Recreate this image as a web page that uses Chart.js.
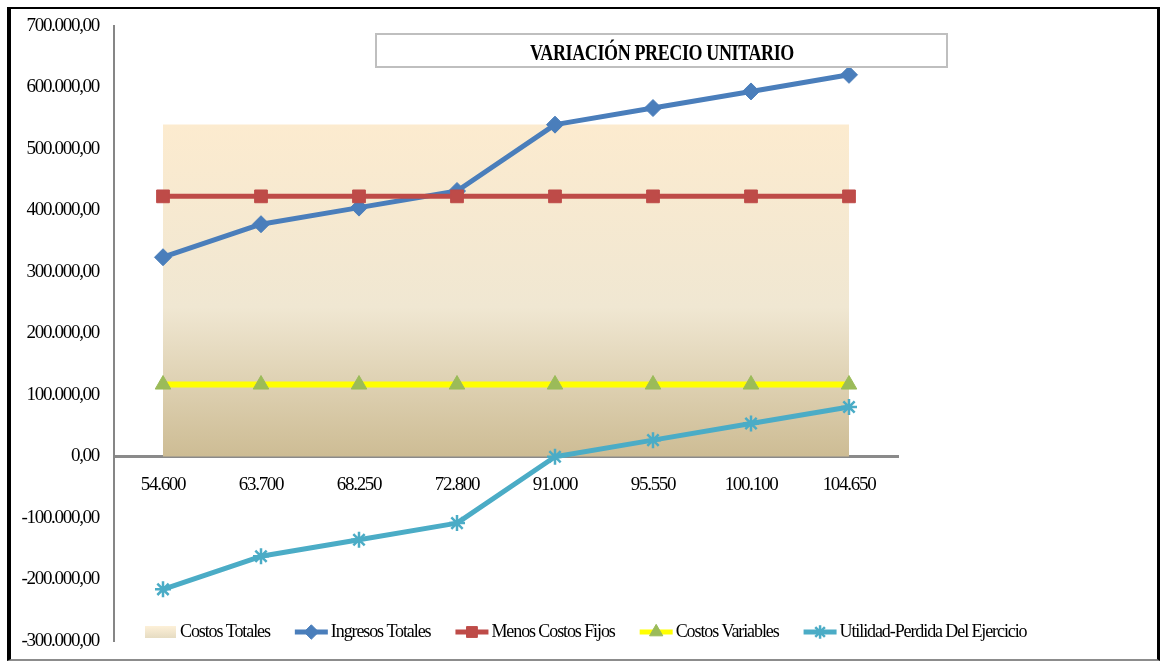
<!DOCTYPE html>
<html>
<head>
<meta charset="utf-8">
<title>Variación Precio Unitario</title>
<script src="https://cdn.jsdelivr.net/npm/chart.js@4.4.0/dist/chart.umd.min.js"></script>
<style>
  html, body { margin: 0; padding: 0; background: #fff; }
  #wrap { position: relative; width: 1160px; height: 661px; overflow: hidden; }
  #chart { position: absolute; left: 0; top: 0; }
  #frame {
    position: absolute; left: 7px; top: 7px; right: 0; bottom: 0; box-sizing: border-box;
    border-top: 2px solid #000; border-left: 4px solid #000; border-right: 3px solid #000;
    border-bottom: 2px solid #8c8c8c; pointer-events: none;
  }
  #title {
    position: absolute; left: 375px; top: 33px; width: 573px; height: 35px; box-sizing: border-box;
    border: 2px solid #bfbfbf; background: #fff; text-align: center; color: #000;
    font: bold 24px 'Liberation Serif', serif; line-height: 34px; white-space: nowrap;
  }
  #title span { display: inline-block; transform: scaleX(0.75); letter-spacing: -0.5px; }
</style>
</head>
<body>
<div id="wrap">
  <canvas id="chart" width="1160" height="661"></canvas>
  <div id="title"><span>VARIACIÓN PRECIO UNITARIO</span></div>
  <div id="frame"></div>
</div>
<script>
// data
const categories = ['54.600', '63.700', '68.250', '72.800', '91.000', '95.550', '100.100', '104.650'];
const costosTotales = [540000, 540000, 540000, 540000, 540000, 540000, 540000, 540000];
const ingresosTotales = [324000, 377700, 404700, 431700, 539600, 566600, 593600, 620600];
const menosCostosFijos = [423000, 423000, 423000, 423000, 423000, 423000, 423000, 423000];
const costosVariables = [117000, 117000, 117000, 117000, 117000, 117000, 117000, 117000];
const utilidad = [-216000, -162300, -135300, -108300, -400, 26600, 53600, 80600];
const yTicks = { min: -300000, max: 700000, step: 100000 };

const areaStops = [[0, '#fcebcf'], [0.55, '#f0e7d2'], [1, '#cdbc94']];
const fontFamily = "'Liberation Serif', 'Times New Roman', serif";

function formatMoney(v) {
    const neg = v < 0;
    const s = Math.abs(Math.round(v)).toString().replace(/\B(?=(\d{3})+(?!\d))/g, '.');
    return (neg ? '-' : '') + s + ',00';
}

function areaGradient(context) {
    const chart = context.chart;
    const area = chart.chartArea;
    if (!area) return areaStops[0][1];
    const y = chart.scales.y;
    const top = y.getPixelForValue(Math.max(...costosTotales));
    const bottom = y.getPixelForValue(0);
    const g = chart.ctx.createLinearGradient(0, top, 0, bottom);
    areaStops.forEach(s => g.addColorStop(s[0], s[1]));
    return g;
}

// narrow the Times-like text a bit, like the original
const spacingPlugin = {
    id: 'spacing',
    beforeDraw(chart) {
        chart.ctx.letterSpacing = '-1.3px';
    }
};

// legend drawn inside the plot, Excel style (line + marker)
const legendPlugin = {
    id: 'excelLegend',
    afterDraw(chart) {
        const ctx = chart.ctx;
        const y = 632;
        let x = 145;
        ctx.save();
        ctx.font = '18px ' + fontFamily;
        ctx.letterSpacing = '-1.1px';
        ctx.textBaseline = 'middle';
        chart.data.datasets.forEach(ds => {
            if (ds.fill) {
                const g = ctx.createLinearGradient(0, y - 6, 0, y + 6);
                g.addColorStop(0, '#fdf0d8');
                g.addColorStop(1, '#e6dcc2');
                ctx.fillStyle = g;
                ctx.fillRect(x, y - 6, 31, 12);
                x += 35;
            } else {
                ctx.strokeStyle = ds.borderColor;
                ctx.lineWidth = 5;
                ctx.beginPath();
                ctx.moveTo(x, y);
                ctx.lineTo(x + 33, y);
                ctx.stroke();
                ctx.fillStyle = ds.pointBackgroundColor;
                ctx.strokeStyle = ds.pointBorderColor;
                ctx.lineWidth = ds.pointBorderWidth;
                if (Chart.helpers && Chart.helpers.drawPoint) {
                    Chart.helpers.drawPoint(ctx, {
                        pointStyle: ds.pointStyle,
                        radius: ds.pointRadius * 0.85,
                        borderWidth: ds.pointBorderWidth,
                        rotation: 0
                    }, x + 16.5, y);
                }
                x += 36;
            }
            ctx.fillStyle = '#000';
            ctx.fillText(ds.label, x, y);
            x += ctx.measureText(ds.label).width + 25;
        });
        ctx.restore();
    }
};

const tickFont = { family: fontFamily, size: 19 };

new Chart(document.getElementById('chart'), {
    type: 'line',
    data: {
        labels: categories,
        datasets: [
            {
                label: 'Costos Totales',
                data: costosTotales,
                fill: 'origin',
                backgroundColor: areaGradient,
                borderWidth: 0,
                pointRadius: 0,
                order: 5
            },
            {
                label: 'Ingresos Totales',
                data: ingresosTotales,
                borderColor: '#4a7ebb',
                borderWidth: 5,
                pointStyle: 'rectRot',
                pointRadius: 8.5,
                pointBackgroundColor: '#4a7ebb',
                pointBorderColor: '#4a7ebb',
                pointBorderWidth: 1,
                order: 4
            },
            {
                label: 'Menos Costos Fijos',
                data: menosCostosFijos,
                borderColor: '#be4b48',
                borderWidth: 5,
                pointStyle: 'rect',
                pointRadius: 9,
                pointBackgroundColor: '#be4b48',
                pointBorderColor: '#be4b48',
                pointBorderWidth: 1,
                order: 3
            },
            {
                label: 'Costos Variables',
                data: costosVariables,
                borderColor: '#ffff00',
                borderWidth: 6,
                pointStyle: 'triangle',
                pointRadius: 9,
                pointBackgroundColor: '#9bbb59',
                pointBorderColor: '#9bbb59',
                pointBorderWidth: 1,
                order: 2
            },
            {
                label: 'Utilidad-Perdida Del Ejercicio',
                data: utilidad,
                borderColor: '#4bacc6',
                borderWidth: 5,
                pointStyle: 'star',
                pointRadius: 8,
                pointBackgroundColor: '#4bacc6',
                pointBorderColor: '#4bacc6',
                pointBorderWidth: 2.5,
                order: 1
            }
        ]
    },
    options: {
        responsive: false,
        animation: false,
        devicePixelRatio: 1,
        layout: { padding: { left: 0, right: 262, top: 26, bottom: 20 } },
        elements: { line: { tension: 0, borderJoinStyle: 'round' } },
        plugins: {
            legend: { display: false },
            tooltip: { enabled: false },
            title: { display: false }
        },
        scales: {
            x: {
                type: 'category',
                offset: true,
                position: { y: 0 },
                grid: { display: false },
                border: { color: '#8a8a8a', width: 3 },
                ticks: { font: tickFont, color: '#000', padding: 9, maxRotation: 0, autoSkip: false },
                afterFit: s => { s.height = 0; }
            },
            y: {
                min: yTicks.min,
                max: yTicks.max,
                grid: { display: false },
                border: { color: '#868686', width: 2 },
                ticks: { stepSize: yTicks.step, font: tickFont, color: '#000', padding: 7, callback: formatMoney },
                afterFit: s => { s.width = 114; }
            }
        }
    },
    plugins: [spacingPlugin, legendPlugin]
});
</script>
</body>
</html>
